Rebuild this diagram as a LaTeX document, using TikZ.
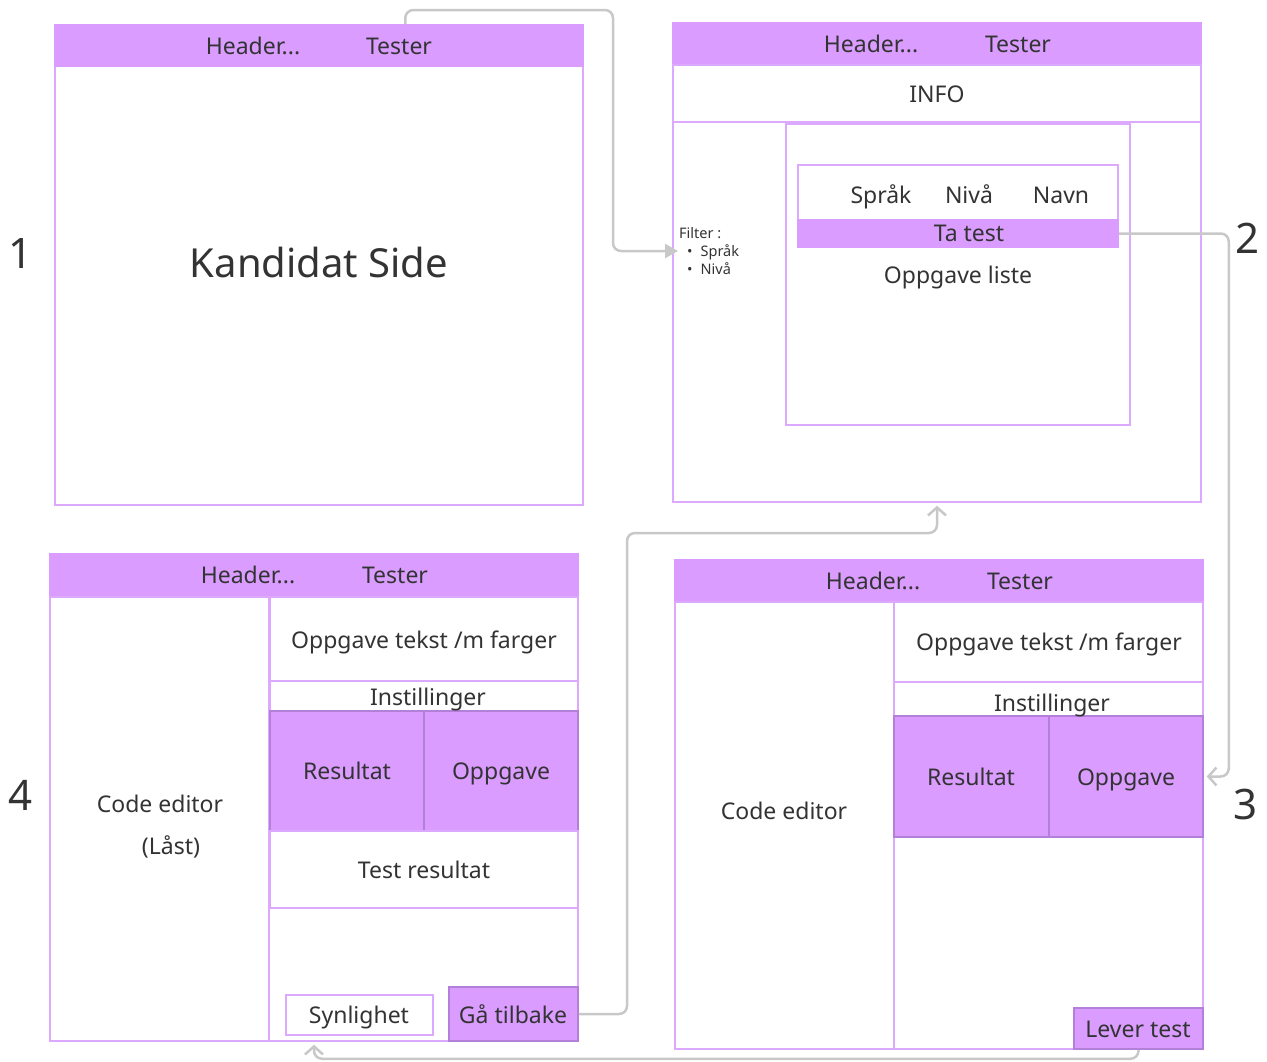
\documentclass[tikz,border=0pt]{standalone}
\usepackage{fontspec}
\setmainfont{Noto Sans}
\usetikzlibrary{arrows.meta,calc}
\definecolor{lilac}{HTML}{DA9CFF}
\definecolor{lilacline}{HTML}{DCA9FF}
\definecolor{lilacdark}{HTML}{B47FD8}
\definecolor{linkgray}{HTML}{C8C8C8}
\definecolor{ink}{HTML}{333333}

\begin{document}
\begin{tikzpicture}[x=1pt,y=-1pt,
  frame/.style={draw=lilacline,line width=1.5pt,fill=white,inner sep=0pt},
  bar/.style={draw=lilac,fill=lilac,line width=1.5pt,inner sep=0pt},
  btn/.style={draw=lilacdark,fill=lilac,line width=1.5pt,inner sep=0pt},
  txt/.style={text=ink,inner sep=0pt,text height=16.5pt,text depth=0pt,
    font=\fontsize{23}{28}\selectfont},
  big/.style={txt,text height=28.6pt,font=\fontsize{40}{48}\selectfont},
  small/.style={text=ink,inner sep=0pt,font=\fontsize{14.5}{18}\selectfont},
  num/.style={txt,text height=30pt,font=\fontsize{42}{48}\selectfont},
  link/.style={draw=linkgray,line width=2.5pt,rounded corners=8pt}]
\useasboundingbox (0,0) rectangle (1267,1061);

% 1: kandidat side
\node[frame,minimum width=528pt,minimum height=480pt] (p1) at (319,265) {};
\node[bar,minimum width=528pt,minimum height=41pt] (h1) at (319,45.5) {};
\node[txt] (h1a) at (253,46) {Header...};
\node[txt] (h1b) at (399,46) {Tester};
\node[big] (kand) at (319,263) {Kandidat Side};
\node[num] (n1) at (21,253) {1};

% 2: oppgave liste
\node[frame,minimum width=528pt,minimum height=479pt] (p2) at (937,262.5) {};
\node[bar,minimum width=528pt,minimum height=42pt] (h2) at (937,44) {};
\node[txt] (h2a) at (871,44) {Header...};
\node[txt] (h2b) at (1018,44) {Tester};
\node[frame,minimum width=528pt,minimum height=57pt] (info) at (937,93.5) {};
\node[txt] (infot) at (937,94) {INFO};
\node[frame,minimum width=344pt,minimum height=301pt] (lst) at (958,274.5) {};
\node[frame,minimum width=320pt,minimum height=82pt] (tbl) at (958,206) {};
\node[bar,minimum width=320pt,minimum height=27pt] (tatest) at (958,233.5) {};
\node[txt] (sprak) at (881,195) {Språk};
\node[txt] (niva) at (969,195) {Nivå};
\node[txt] (navn) at (1061,195) {Navn};
\node[txt] (tatestt) at (969,233) {Ta test};
\node[txt] (lstt) at (958,275) {Oppgave liste};
\node[small,align=left,anchor=west] (filt) at (679,251)
  {Filter :\\\hspace*{8pt}\textbullet\hspace{8pt}Språk\\\hspace*{8pt}\textbullet\hspace{8pt}Nivå};
\node[num] (n2) at (1247,238) {2};

% 3: code editor
\node[frame,minimum width=528pt,minimum height=489pt] (p3) at (939,804.5) {};
\node[bar,minimum width=528pt,minimum height=42pt] (h3) at (939,581) {};
\node[txt] (h3a) at (873,581) {Header...};
\node[txt] (h3b) at (1020,581) {Tester};
\node[frame,minimum width=219pt,minimum height=447pt] (ed3) at (784.5,825.5) {};
\node[txt] (ed3t) at (784,811) {Code editor};
\node[frame,minimum width=309pt,minimum height=80pt] (task3) at (1048.5,642) {};
\node[txt] (task3t) at (1049,642) {Oppgave tekst /m farger};
\node[frame,minimum width=309pt,minimum height=34pt] (inst3) at (1048.5,699) {};
\node[btn,minimum width=155pt,minimum height=121pt] (res3) at (971.5,776.5) {};
\node[btn,minimum width=154pt,minimum height=121pt] (opp3) at (1126,776.5) {};
\node[txt] (inst3t) at (1052,703) {Instillinger};
\node[txt] (res3t) at (971,777) {Resultat};
\node[txt] (opp3t) at (1126,777) {Oppgave};
\node[btn,minimum width=129pt,minimum height=41pt] (lever3) at (1138.5,1028.5) {};
\node[txt] (lever3t) at (1138,1029) {Lever test};
\node[num] (n3) at (1245,804) {3};

% 4: code editor (laast)
\node[frame,minimum width=528pt,minimum height=487pt] (p4) at (314,797.5) {};
\node[bar,minimum width=528pt,minimum height=43pt] (h4) at (314,575.5) {};
\node[txt] (h4a) at (248,575) {Header...};
\node[txt] (h4b) at (395,575) {Tester};
\node[frame,minimum width=219pt,minimum height=444pt] (ed4) at (159.5,819) {};
\node[txt] (ed4t) at (160,804) {Code editor};
\node[txt] (ed4l) at (171,846) {(Låst)};
\node[frame,minimum width=308pt,minimum height=84pt] (task4) at (424,639) {};
\node[txt] (task4t) at (424,640) {Oppgave tekst /m farger};
\node[frame,minimum width=308pt,minimum height=30pt] (inst4) at (424,696) {};
\node[btn,minimum width=154pt,minimum height=120pt] (res4) at (347,771) {};
\node[btn,minimum width=154pt,minimum height=120pt] (opp4) at (501,771) {};
\node[txt] (inst4t) at (428,697) {Instillinger};
\node[txt] (res4t) at (347,771) {Resultat};
\node[txt] (opp4t) at (501,771) {Oppgave};
\node[frame,minimum width=308pt,minimum height=77pt] (tres4) at (424,869.5) {};
\node[txt] (tres4t) at (424,870) {Test resultat};
\node[frame,minimum width=147pt,minimum height=40pt] (syn4) at (359.5,1015) {};
\node[txt] (syn4t) at (359,1015) {Synlighet};
\node[btn,minimum width=129pt,minimum height=54pt] (back4) at (513.5,1014) {};
\node[txt] (back4t) at (513,1015) {Gå tilbake};
\node[num] (n4) at (21,795) {4};

% connectors
\draw[link,-{Triangle[length=13pt,width=14pt]},shorten >=1pt]
  ($(h1.north west)!0.663!(h1.north east)$) |- (613,10) |- (filt.west);
\draw[link,-{Straight Barb[length=8pt,width=18pt]},shorten >=3pt]
  (tatest.east) -- ++(110,0) |- (opp3.east);
\draw[link,-{Straight Barb[length=8pt,width=18pt]},shorten >=3pt]
  (back4.east) -| (627,533) -| (p2.south);
\draw[link,-{Straight Barb[length=8pt,width=18pt]},shorten >=3pt]
  (lever3.south) -- ++(0,9) -| (p4.south);
\end{tikzpicture}
\end{document}
